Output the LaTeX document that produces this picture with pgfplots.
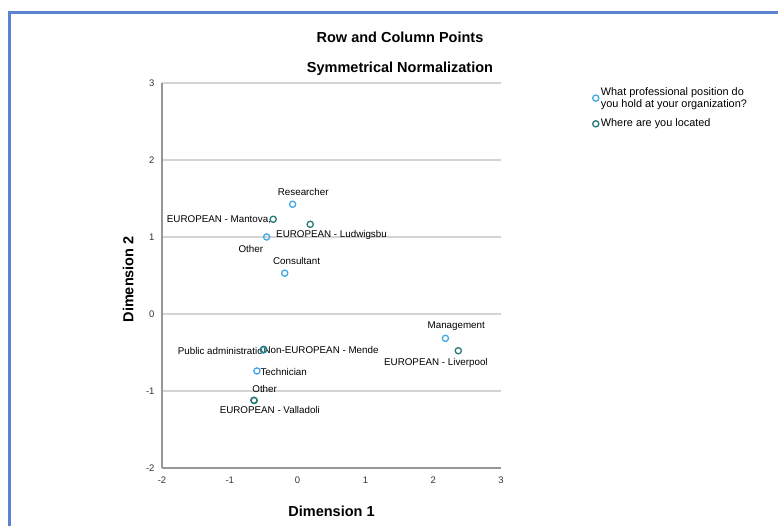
\documentclass[border=0pt]{standalone}
\usepackage{pgfplots}
\pgfplotsset{compat=1.18}
\usepackage{fontspec}
\setmainfont{Liberation Sans}
\definecolor{rowc}{RGB}{66,168,228}
\definecolor{colc}{RGB}{42,122,120}
\definecolor{framec}{RGB}{92,130,210}
\definecolor{gridc}{RGB}{212,212,212}
\definecolor{axc}{RGB}{150,150,150}
\tikzset{lab/.style={font=\fontsize{9.8}{11}\selectfont, anchor=center, inner sep=0pt}}
\begin{document}
\begin{tikzpicture}[x=1pt,y=1pt]
\path[use as bounding box] (0,0) rectangle (778,526);
\draw[framec, line width=3] (9.5,0) -- (9.5,513.5) -- (778,513.5);
\node[font=\fontsize{14.5}{16}\selectfont\bfseries] at (400,489) {Row and Column Points};
\node[font=\fontsize{14.5}{16}\selectfont\bfseries] at (400,457) {Symmetrical Normalization};
\begin{axis}[
  at={(162pt,58pt)}, anchor=south west, scale only axis,
  width=339pt, height=385pt,
  xmin=-2, xmax=3, ymin=-2, ymax=3,
  xtick={-2,-1,0,1,2,3}, ytick={-2,-1,0,1,2,3},
  axis x line*=bottom, axis y line*=left,
  axis line style={axc, line width=1.4pt, -},
  ymajorgrids, grid style={gridc, line width=1.4pt},
  major tick length=0pt,
  tick label style={font=\fontsize{9.5}{10}\selectfont, text=black!80},
  /pgf/number format/assume math mode=true,
  xticklabel style={yshift=-5pt},
  yticklabel style={xshift=-4pt},
  xlabel={Dimension 1}, ylabel={Dimension 2},
  label style={font=\fontsize{14.5}{16}\selectfont\bfseries},
  xlabel style={at={(axis description cs:0.5,-0.112)}, anchor=center},
  ylabel style={at={(axis description cs:-0.1,0.49)}, anchor=center, rotate=0},
  legend style={at={(axis description cs:1.261,1.0)}, anchor=north west, draw=none,
    font=\fontsize{10.9}{12.5}\selectfont, cells={align=left}, row sep=6pt},
  legend cell align=left,
  clip=false,
]
% Row points: What professional position do you hold at your organization?
\addplot[only marks, mark=o, mark size=3.1pt, mark options={rowc, line width=1.3pt}] coordinates {
  (-0.074,1.425) (-0.457,1.00) (-0.19,0.53) (2.18,-0.316) (-0.507,-0.468) (-0.60,-0.74)
};
\addlegendentry{What professional position do\\you hold at your organization?}
% Column points: Where are you located
\addplot[only marks, mark=o, mark size=3.1pt, mark options={colc, line width=1.3pt}] coordinates {
  (-0.36,1.23) (0.186,1.165) (2.37,-0.477) (-0.50,-0.46) (-0.64,-1.124) (-0.645,-1.12)
};
\addlegendentry{Where are you located}
\node[lab] at (axis cs:0.083,1.58) {Researcher};
\node[lab] at (axis cs:-1.16,1.22) {EUROPEAN - Mantova,};
\node[lab] at (axis cs:0.50,1.026) {EUROPEAN - Ludwigsbu};
\node[lab] at (axis cs:-0.69,0.848) {Other};
\node[lab] at (axis cs:-0.015,0.688) {Consultant};
\node[lab] at (axis cs:2.34,-0.156) {Management};
\node[lab] at (axis cs:2.04,-0.64) {EUROPEAN - Liverpool};
\node[lab] at (axis cs:-1.14,-0.477) {Public administratio};
\node[lab] at (axis cs:0.346,-0.468) {Non-EUROPEAN - Mende};
\node[lab] at (axis cs:-0.205,-0.749) {Technician};
\node[lab] at (axis cs:-0.486,-0.974) {Other};
\node[lab] at (axis cs:-0.41,-1.247) {EUROPEAN - Valladoli};
\end{axis}
\end{tikzpicture}
\end{document}
